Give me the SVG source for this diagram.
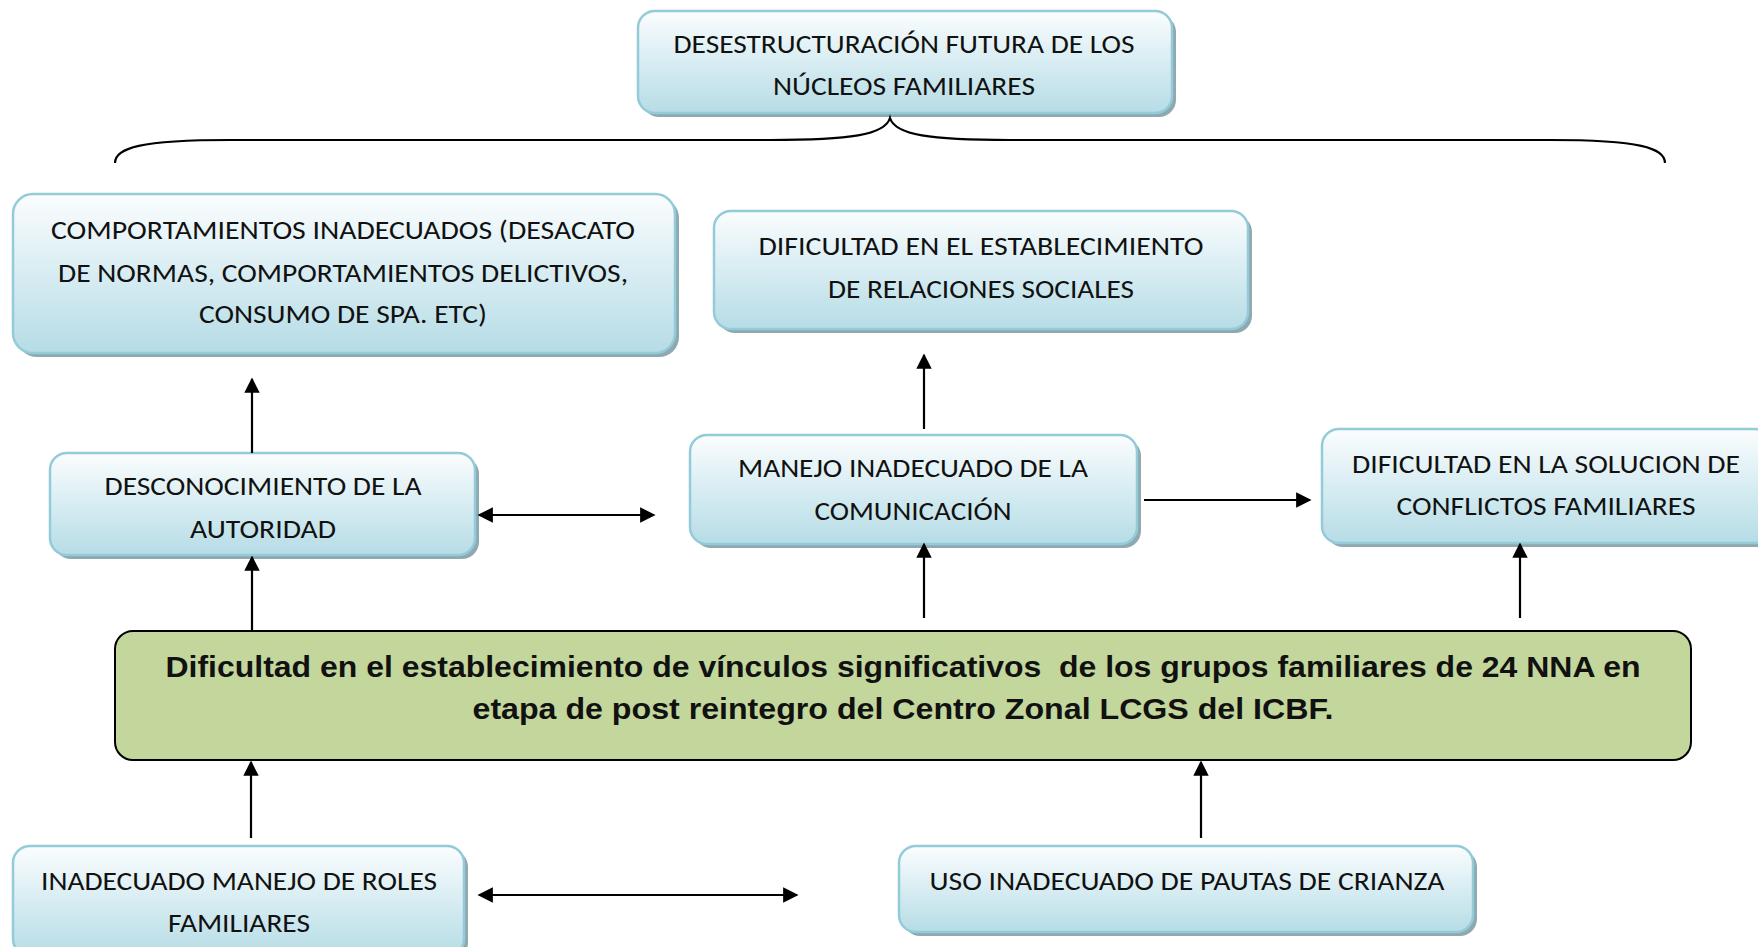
<svg xmlns="http://www.w3.org/2000/svg" width="1758" height="947" viewBox="0 0 1758 947">
<defs>
<linearGradient id="bg" x1="0" y1="0" x2="0" y2="1">
<stop offset="0" stop-color="#fbfdfe"/>
<stop offset="0.55" stop-color="#d4ebf1"/>
<stop offset="1" stop-color="#b6dce6"/>
</linearGradient>
<marker id="ah" viewBox="0 0 10 10" refX="9" refY="5" markerWidth="7" markerHeight="7" orient="auto-start-reverse" markerUnits="strokeWidth">
<path d="M0,0 L10,5 L0,10 z" fill="#000"/>
</marker>
</defs>
<style>
.sh{fill:#8fa9b2}
.bx{fill:url(#bg);stroke:#94cbd9;stroke-width:2.5}
.t{font-family:Carlito,Lato,"Liberation Sans",sans-serif;font-size:26px;fill:#111;text-anchor:middle}
.b{font-family:"Liberation Sans",Arial,sans-serif;font-weight:bold;font-size:29px;fill:#111;text-anchor:middle}
.c{stroke:#000;stroke-width:2.2;fill:none}
</style>
<rect width="1758" height="947" fill="#fff"/>

<g id="n-top">
<rect class="sh" x="642" y="15" width="534" height="102" rx="17"/>
<rect class="bx" x="638" y="11" width="534" height="102" rx="17"/>
<text class="t" x="904" y="53" textLength="461" lengthAdjust="spacingAndGlyphs">DESESTRUCTURACIÓN FUTURA DE LOS</text>
<text class="t" x="904" y="95" textLength="262" lengthAdjust="spacingAndGlyphs">NÚCLEOS FAMILIARES</text>
</g>

<g id="brace">
<path class="c" stroke-width="1.8" d="M115,163 C115,148 140,140 230,140 L770,140 C850,140 885,135 890,118 C895,135 930,140 1010,140 L1550,140 C1640,140 1665,148 1665,163"/>
</g>

<g id="n-comp">
<rect class="sh" x="17" y="198" width="662" height="159" rx="20"/>
<rect class="bx" x="13" y="194" width="662" height="159" rx="20"/>
<text class="t" x="343" y="239" textLength="584" lengthAdjust="spacingAndGlyphs">COMPORTAMIENTOS INADECUADOS (DESACATO</text>
<text class="t" x="343" y="282" textLength="570" lengthAdjust="spacingAndGlyphs">DE NORMAS, COMPORTAMIENTOS DELICTIVOS,</text>
<text class="t" x="343" y="323" textLength="288" lengthAdjust="spacingAndGlyphs">CONSUMO DE SPA. ETC)</text>
</g>

<g id="n-relsoc">
<rect class="sh" x="718" y="215" width="534" height="118" rx="17"/>
<rect class="bx" x="714" y="211" width="534" height="118" rx="17"/>
<text class="t" x="981" y="255" textLength="445" lengthAdjust="spacingAndGlyphs">DIFICULTAD EN EL ESTABLECIMIENTO</text>
<text class="t" x="981" y="298" textLength="306" lengthAdjust="spacingAndGlyphs">DE RELACIONES SOCIALES</text>
</g>

<g id="n-desc">
<rect class="sh" x="54" y="457" width="425" height="102" rx="17"/>
<rect class="bx" x="50" y="453" width="425" height="102" rx="17"/>
<text class="t" x="263" y="495" textLength="317" lengthAdjust="spacingAndGlyphs">DESCONOCIMIENTO DE LA</text>
<text class="t" x="263" y="538" textLength="146" lengthAdjust="spacingAndGlyphs">AUTORIDAD</text>
</g>

<g id="n-manejo">
<rect class="sh" x="694" y="439" width="447" height="109" rx="17"/>
<rect class="bx" x="690" y="435" width="447" height="109" rx="17"/>
<text class="t" x="913" y="477" textLength="350" lengthAdjust="spacingAndGlyphs">MANEJO INADECUADO DE LA</text>
<text class="t" x="913" y="520" textLength="197" lengthAdjust="spacingAndGlyphs">COMUNICACIÓN</text>
</g>

<g id="n-sol">
<rect class="sh" x="1326" y="433" width="450" height="114" rx="17"/>
<rect class="bx" x="1322" y="429" width="450" height="114" rx="17"/>
<text class="t" x="1546" y="473" textLength="388" lengthAdjust="spacingAndGlyphs">DIFICULTAD EN LA SOLUCION DE</text>
<text class="t" x="1546" y="515" textLength="299" lengthAdjust="spacingAndGlyphs">CONFLICTOS FAMILIARES</text>
</g>

<g id="n-main">
<rect x="115" y="631" width="1576" height="129" rx="18" fill="#c3d69b" stroke="#000" stroke-width="2"/>
<text class="b" x="903" y="677" textLength="1475" lengthAdjust="spacingAndGlyphs" xml:space="preserve">Dificultad en el establecimiento de vínculos significativos  de los grupos familiares de 24 NNA en</text>
<text class="b" x="903" y="719" textLength="861" lengthAdjust="spacingAndGlyphs">etapa de post reintegro del Centro Zonal LCGS del ICBF.</text>
</g>

<g id="n-roles">
<rect class="sh" x="17" y="850" width="451" height="110" rx="17"/>
<rect class="bx" x="13" y="846" width="451" height="110" rx="17"/>
<text class="t" x="239" y="890" textLength="396" lengthAdjust="spacingAndGlyphs">INADECUADO MANEJO DE ROLES</text>
<text class="t" x="239" y="932" textLength="142" lengthAdjust="spacingAndGlyphs">FAMILIARES</text>
</g>

<g id="n-pautas">
<rect class="sh" x="903" y="850" width="574" height="86" rx="17"/>
<rect class="bx" x="899" y="846" width="574" height="86" rx="17"/>
<text class="t" x="1187" y="890" textLength="515" lengthAdjust="spacingAndGlyphs">USO INADECUADO DE PAUTAS DE CRIANZA</text>
</g>

<g id="connectors">
<line class="c" x1="252" y1="453" x2="252" y2="379" marker-end="url(#ah)"/>
<line class="c" x1="252" y1="631" x2="252" y2="557" marker-end="url(#ah)"/>
<line class="c" x1="479" y1="515" x2="654" y2="515" marker-start="url(#ah)" marker-end="url(#ah)"/>
<line class="c" x1="924" y1="429" x2="924" y2="355" marker-end="url(#ah)"/>
<line class="c" x1="924" y1="618" x2="924" y2="544" marker-end="url(#ah)"/>
<line class="c" x1="1144" y1="500" x2="1310" y2="500" marker-end="url(#ah)"/>
<line class="c" x1="1520" y1="618" x2="1520" y2="544" marker-end="url(#ah)"/>
<line class="c" x1="251" y1="838" x2="251" y2="762" marker-end="url(#ah)"/>
<line class="c" x1="1201" y1="838" x2="1201" y2="762" marker-end="url(#ah)"/>
<line class="c" x1="479" y1="895" x2="797" y2="895" marker-start="url(#ah)" marker-end="url(#ah)"/>
</g>
</svg>
